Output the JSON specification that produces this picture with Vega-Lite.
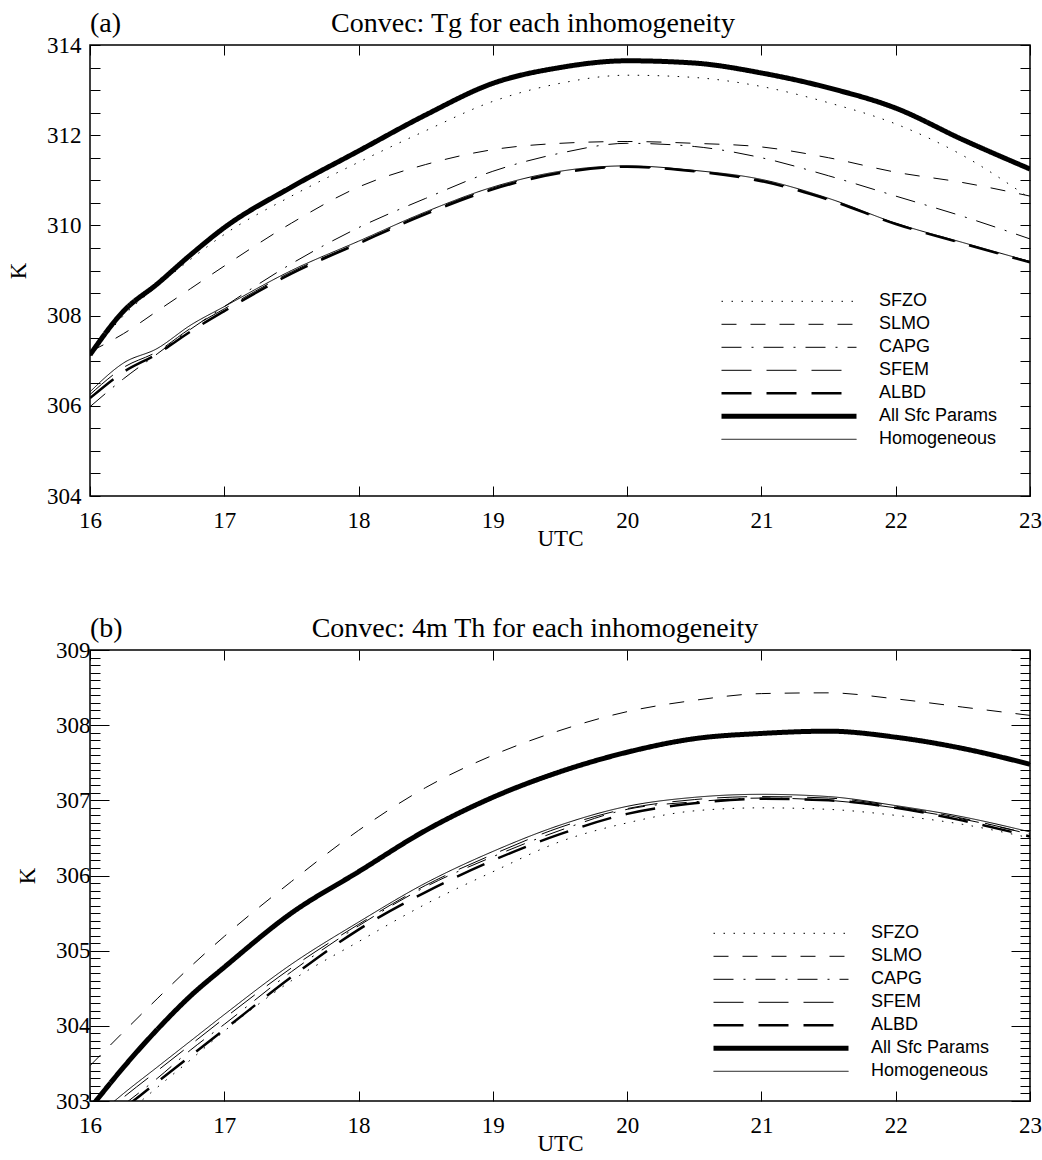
{
  "$schema": "https://vega.github.io/schema/vega-lite/v6.json",
  "autosize": {"type": "pad"},
  "padding": {"left": 6, "top": 9, "right": 13, "bottom": 4},
  "bounds": "flush",
  "spacing": 154,
  "background": "white",
  "config": {
    "view": {"stroke": "black", "strokeWidth": 1.5},
    "axis": {"labelFont": "Liberation Serif", "labelFontSize": 23, "labelColor": "black", "titleFont": "Liberation Serif", "titleFontSize": 23, "titleFontWeight": "normal", "titleColor": "black", "tickColor": "black", "domain": false, "grid": false, "tickWidth": 1, "labelFlush": false, "minExtent": 0},
    "legend": {"orient": "none", "symbolType": "stroke", "symbolSize": 18225, "symbolStrokeColor": "black", "labelFont": "Liberation Sans", "labelFontSize": 18, "labelColor": "black", "labelOffset": 20, "rowPadding": 0, "clipHeight": 22.6, "title": null},
    "title": {"font": "Liberation Serif", "fontSize": 28, "fontWeight": "normal", "color": "black", "anchor": "start", "baseline": "alphabetic", "offset": -4, "frame": "group"},
    "line": {"color": "black", "interpolate": "monotone", "strokeCap": "butt"}
  },
  "resolve": {"legend": {"strokeDash": "independent", "strokeWidth": "independent"}, "scale": {"strokeDash": "independent", "strokeWidth": "independent", "y": "independent"}},
  "datasets": {
    "a": [
      {"s":"All Sfc Params","t":16,"v":307.13},{"s":"All Sfc Params","t":16.25,"v":308.1},{"s":"All Sfc Params","t":16.5,"v":308.7},{"s":"All Sfc Params","t":16.75,"v":309.35},{"s":"All Sfc Params","t":17,"v":309.95},{"s":"All Sfc Params","t":17.5,"v":310.85},{"s":"All Sfc Params","t":18,"v":311.65},{"s":"All Sfc Params","t":18.5,"v":312.45},{"s":"All Sfc Params","t":19,"v":313.15},{"s":"All Sfc Params","t":19.5,"v":313.5},{"s":"All Sfc Params","t":20,"v":313.65},{"s":"All Sfc Params","t":20.5,"v":313.6},{"s":"All Sfc Params","t":21,"v":313.38},{"s":"All Sfc Params","t":21.5,"v":313.05},{"s":"All Sfc Params","t":22,"v":312.6},{"s":"All Sfc Params","t":22.5,"v":311.9},{"s":"All Sfc Params","t":23,"v":311.25},
      {"s":"SFZO","t":16,"v":307.1},{"s":"SFZO","t":16.25,"v":308.0},{"s":"SFZO","t":16.5,"v":308.65},{"s":"SFZO","t":16.75,"v":309.25},{"s":"SFZO","t":17,"v":309.8},{"s":"SFZO","t":17.5,"v":310.65},{"s":"SFZO","t":18,"v":311.4},{"s":"SFZO","t":18.5,"v":312.1},{"s":"SFZO","t":19,"v":312.75},{"s":"SFZO","t":19.5,"v":313.15},{"s":"SFZO","t":20,"v":313.33},{"s":"SFZO","t":20.5,"v":313.28},{"s":"SFZO","t":21,"v":313.08},{"s":"SFZO","t":21.5,"v":312.72},{"s":"SFZO","t":22,"v":312.25},{"s":"SFZO","t":22.5,"v":311.55},{"s":"SFZO","t":23,"v":310.6},
      {"s":"SLMO","t":16,"v":307.2},{"s":"SLMO","t":16.25,"v":307.6},{"s":"SLMO","t":16.5,"v":308.1},{"s":"SLMO","t":16.75,"v":308.6},{"s":"SLMO","t":17,"v":309.1},{"s":"SLMO","t":17.5,"v":310.05},{"s":"SLMO","t":18,"v":310.85},{"s":"SLMO","t":18.5,"v":311.35},{"s":"SLMO","t":19,"v":311.68},{"s":"SLMO","t":19.5,"v":311.82},{"s":"SLMO","t":20,"v":311.86},{"s":"SLMO","t":20.5,"v":311.82},{"s":"SLMO","t":21,"v":311.74},{"s":"SLMO","t":21.5,"v":311.5},{"s":"SLMO","t":22,"v":311.18},{"s":"SLMO","t":22.5,"v":310.95},{"s":"SLMO","t":23,"v":310.65},
      {"s":"CAPG","t":16,"v":305.98},{"s":"CAPG","t":16.25,"v":306.6},{"s":"CAPG","t":16.5,"v":307.15},{"s":"CAPG","t":16.75,"v":307.7},{"s":"CAPG","t":17,"v":308.2},{"s":"CAPG","t":17.5,"v":309.15},{"s":"CAPG","t":18,"v":309.95},{"s":"CAPG","t":18.5,"v":310.6},{"s":"CAPG","t":19,"v":311.2},{"s":"CAPG","t":19.5,"v":311.6},{"s":"CAPG","t":20,"v":311.82},{"s":"CAPG","t":20.5,"v":311.75},{"s":"CAPG","t":21,"v":311.5},{"s":"CAPG","t":21.5,"v":311.1},{"s":"CAPG","t":22,"v":310.65},{"s":"CAPG","t":22.5,"v":310.2},{"s":"CAPG","t":23,"v":309.7},
      {"s":"Homogeneous","t":16,"v":306.31},{"s":"Homogeneous","t":16.25,"v":306.95},{"s":"Homogeneous","t":16.5,"v":307.27},{"s":"Homogeneous","t":16.75,"v":307.79},{"s":"Homogeneous","t":17,"v":308.2},{"s":"Homogeneous","t":17.5,"v":309.0},{"s":"Homogeneous","t":18,"v":309.65},{"s":"Homogeneous","t":18.5,"v":310.3},{"s":"Homogeneous","t":19,"v":310.85},{"s":"Homogeneous","t":19.5,"v":311.2},{"s":"Homogeneous","t":20,"v":311.32},{"s":"Homogeneous","t":20.5,"v":311.22},{"s":"Homogeneous","t":21,"v":311.02},{"s":"Homogeneous","t":21.5,"v":310.6},{"s":"Homogeneous","t":22,"v":310.05},{"s":"Homogeneous","t":22.5,"v":309.62},{"s":"Homogeneous","t":23,"v":309.2},
      {"s":"SFEM","t":16,"v":306.25},{"s":"SFEM","t":16.25,"v":306.85},{"s":"SFEM","t":16.5,"v":307.2},{"s":"SFEM","t":16.75,"v":307.72},{"s":"SFEM","t":17,"v":308.15},{"s":"SFEM","t":17.5,"v":308.97},{"s":"SFEM","t":18,"v":309.62},{"s":"SFEM","t":18.5,"v":310.28},{"s":"SFEM","t":19,"v":310.83},{"s":"SFEM","t":19.5,"v":311.18},{"s":"SFEM","t":20,"v":311.3},{"s":"SFEM","t":20.5,"v":311.2},{"s":"SFEM","t":21,"v":311.0},{"s":"SFEM","t":21.5,"v":310.58},{"s":"SFEM","t":22,"v":310.04},{"s":"SFEM","t":22.5,"v":309.6},{"s":"SFEM","t":23,"v":309.2},
      {"s":"ALBD","t":16,"v":306.17},{"s":"ALBD","t":16.25,"v":306.75},{"s":"ALBD","t":16.5,"v":307.15},{"s":"ALBD","t":16.75,"v":307.65},{"s":"ALBD","t":17,"v":308.1},{"s":"ALBD","t":17.5,"v":308.93},{"s":"ALBD","t":18,"v":309.6},{"s":"ALBD","t":18.5,"v":310.25},{"s":"ALBD","t":19,"v":310.8},{"s":"ALBD","t":19.5,"v":311.16},{"s":"ALBD","t":20,"v":311.3},{"s":"ALBD","t":20.5,"v":311.2},{"s":"ALBD","t":21,"v":310.98},{"s":"ALBD","t":21.5,"v":310.57},{"s":"ALBD","t":22,"v":310.03},{"s":"ALBD","t":22.5,"v":309.6},{"s":"ALBD","t":23,"v":309.18}
    ],
    "b": [
      {"s":"All Sfc Params","t":16,"v":302.9},{"s":"All Sfc Params","t":16.25,"v":303.45},{"s":"All Sfc Params","t":16.5,"v":303.95},{"s":"All Sfc Params","t":16.75,"v":304.4},{"s":"All Sfc Params","t":17,"v":304.78},{"s":"All Sfc Params","t":17.5,"v":305.5},{"s":"All Sfc Params","t":18,"v":306.05},{"s":"All Sfc Params","t":18.5,"v":306.6},{"s":"All Sfc Params","t":19,"v":307.04},{"s":"All Sfc Params","t":19.5,"v":307.38},{"s":"All Sfc Params","t":20,"v":307.64},{"s":"All Sfc Params","t":20.5,"v":307.82},{"s":"All Sfc Params","t":21,"v":307.89},{"s":"All Sfc Params","t":21.5,"v":307.92},{"s":"All Sfc Params","t":22,"v":307.84},{"s":"All Sfc Params","t":22.5,"v":307.69},{"s":"All Sfc Params","t":23,"v":307.48},
      {"s":"SFZO","t":16,"v":302.4},{"s":"SFZO","t":16.25,"v":302.8},{"s":"SFZO","t":16.5,"v":303.18},{"s":"SFZO","t":16.75,"v":303.55},{"s":"SFZO","t":17,"v":303.93},{"s":"SFZO","t":17.5,"v":304.6},{"s":"SFZO","t":18,"v":305.12},{"s":"SFZO","t":18.5,"v":305.62},{"s":"SFZO","t":19,"v":306.05},{"s":"SFZO","t":19.5,"v":306.45},{"s":"SFZO","t":20,"v":306.7},{"s":"SFZO","t":20.5,"v":306.86},{"s":"SFZO","t":21,"v":306.9},{"s":"SFZO","t":21.5,"v":306.88},{"s":"SFZO","t":22,"v":306.8},{"s":"SFZO","t":22.5,"v":306.68},{"s":"SFZO","t":23,"v":306.5},
      {"s":"SLMO","t":16,"v":303.47},{"s":"SLMO","t":16.25,"v":303.92},{"s":"SLMO","t":16.5,"v":304.36},{"s":"SLMO","t":16.75,"v":304.79},{"s":"SLMO","t":17,"v":305.19},{"s":"SLMO","t":17.5,"v":305.92},{"s":"SLMO","t":18,"v":306.6},{"s":"SLMO","t":18.5,"v":307.17},{"s":"SLMO","t":19,"v":307.6},{"s":"SLMO","t":19.5,"v":307.93},{"s":"SLMO","t":20,"v":308.18},{"s":"SLMO","t":20.5,"v":308.33},{"s":"SLMO","t":21,"v":308.42},{"s":"SLMO","t":21.5,"v":308.43},{"s":"SLMO","t":22,"v":308.35},{"s":"SLMO","t":22.5,"v":308.24},{"s":"SLMO","t":23,"v":308.13},
      {"s":"CAPG","t":16,"v":302.6},{"s":"CAPG","t":16.25,"v":302.95},{"s":"CAPG","t":16.5,"v":303.3},{"s":"CAPG","t":16.75,"v":303.68},{"s":"CAPG","t":17,"v":304.02},{"s":"CAPG","t":17.5,"v":304.72},{"s":"CAPG","t":18,"v":305.33},{"s":"CAPG","t":18.5,"v":305.85},{"s":"CAPG","t":19,"v":306.25},{"s":"CAPG","t":19.5,"v":306.6},{"s":"CAPG","t":20,"v":306.88},{"s":"CAPG","t":20.5,"v":306.98},{"s":"CAPG","t":21,"v":307.03},{"s":"CAPG","t":21.5,"v":307.0},{"s":"CAPG","t":22,"v":306.9},{"s":"CAPG","t":22.5,"v":306.75},{"s":"CAPG","t":23,"v":306.55},
      {"s":"Homogeneous","t":16,"v":302.72},{"s":"Homogeneous","t":16.25,"v":303.1},{"s":"Homogeneous","t":16.5,"v":303.45},{"s":"Homogeneous","t":16.75,"v":303.8},{"s":"Homogeneous","t":17,"v":304.15},{"s":"Homogeneous","t":17.5,"v":304.82},{"s":"Homogeneous","t":18,"v":305.38},{"s":"Homogeneous","t":18.5,"v":305.9},{"s":"Homogeneous","t":19,"v":306.32},{"s":"Homogeneous","t":19.5,"v":306.67},{"s":"Homogeneous","t":20,"v":306.92},{"s":"Homogeneous","t":20.5,"v":307.04},{"s":"Homogeneous","t":21,"v":307.08},{"s":"Homogeneous","t":21.5,"v":307.05},{"s":"Homogeneous","t":22,"v":306.93},{"s":"Homogeneous","t":22.5,"v":306.78},{"s":"Homogeneous","t":23,"v":306.58},
      {"s":"SFEM","t":16,"v":302.68},{"s":"SFEM","t":16.25,"v":303.05},{"s":"SFEM","t":16.5,"v":303.4},{"s":"SFEM","t":16.75,"v":303.75},{"s":"SFEM","t":17,"v":304.1},{"s":"SFEM","t":17.5,"v":304.77},{"s":"SFEM","t":18,"v":305.35},{"s":"SFEM","t":18.5,"v":305.87},{"s":"SFEM","t":19,"v":306.28},{"s":"SFEM","t":19.5,"v":306.64},{"s":"SFEM","t":20,"v":306.89},{"s":"SFEM","t":20.5,"v":307.01},{"s":"SFEM","t":21,"v":307.05},{"s":"SFEM","t":21.5,"v":307.03},{"s":"SFEM","t":22,"v":306.92},{"s":"SFEM","t":22.5,"v":306.76},{"s":"SFEM","t":23,"v":306.55},
      {"s":"ALBD","t":16,"v":302.55},{"s":"ALBD","t":16.25,"v":302.9},{"s":"ALBD","t":16.5,"v":303.25},{"s":"ALBD","t":16.75,"v":303.6},{"s":"ALBD","t":17,"v":303.95},{"s":"ALBD","t":17.5,"v":304.65},{"s":"ALBD","t":18,"v":305.28},{"s":"ALBD","t":18.5,"v":305.78},{"s":"ALBD","t":19,"v":306.2},{"s":"ALBD","t":19.5,"v":306.55},{"s":"ALBD","t":20,"v":306.82},{"s":"ALBD","t":20.5,"v":306.96},{"s":"ALBD","t":21,"v":307.02},{"s":"ALBD","t":21.5,"v":307.0},{"s":"ALBD","t":22,"v":306.9},{"s":"ALBD","t":22.5,"v":306.73},{"s":"ALBD","t":23,"v":306.52}
    ]
  },
  "vconcat": [
    {
      "width": 940, "height": 451,
      "title": {"text": "(a)\u00a0\u00a0\u00a0\u00a0\u00a0\u00a0\u00a0\u00a0\u00a0\u00a0\u00a0\u00a0\u00a0\u00a0\u00a0\u00a0\u00a0\u00a0\u00a0\u00a0\u00a0\u00a0\u00a0\u00a0\u00a0\u00a0\u00a0\u00a0\u00a0\u00a0Convec: Tg for each inhomogeneity"},
      "data": {"name": "a"},
      "resolve": {"axis": {"x": "independent", "y": "independent"}},
      "layer": [
        {
          "mark": {"type": "line", "clip": true},
          "encoding": {
            "x": {"field": "t", "type": "quantitative", "scale": {"domain": [16, 23], "nice": false}, "axis": {"values": [16,17,18,19,20,21,22,23], "format": "d", "title": "UTC", "tickSize": -10, "labelPadding": 23, "titlePadding": -5}},
            "y": {"field": "v", "type": "quantitative", "scale": {"domain": [304, 314], "nice": false, "zero": false}, "axis": {"values": [304,304.5,305,305.5,306,306.5,307,307.5,308,308.5,309,309.5,310,310.5,311,311.5,312,312.5,313,313.5,314], "labelExpr": "datum.value % 2 == 0 ? format(datum.value, 'd') : ''", "title": "K", "tickSize": -10, "labelPadding": 19, "titlePadding": 16}},
            "strokeDash": {"field": "s", "type": "nominal", "scale": {"domain": ["SFZO","SLMO","CAPG","SFEM","ALBD","All Sfc Params","Homogeneous"], "range": [[1.5,8.5],[15,14],[20,10,2,10],[30,15],[30,15],[1,0],[1,0]]}, "legend": {"legendX": 629, "legendY": 245}},
            "strokeWidth": {"field": "s", "type": "nominal", "scale": {"type": "ordinal", "domain": ["SFZO","SLMO","CAPG","SFEM","ALBD","All Sfc Params","Homogeneous"], "range": [1,1,1,1,2.5,5,1]}, "legend": {"legendX": 629, "legendY": 245}}
          }
        },
        {
          "mark": {"type": "line", "strokeOpacity": 0, "clip": true},
          "encoding": {
            "x": {"field": "t", "type": "quantitative", "scale": {"domain": [16, 23], "nice": false}, "axis": {"orient": "top", "values": [16,17,18,19,20,21,22,23], "labels": false, "title": null, "tickSize": -10}},
            "y": {"field": "v", "type": "quantitative", "scale": {"domain": [304, 314], "nice": false, "zero": false}, "axis": {"orient": "right", "values": [304,304.5,305,305.5,306,306.5,307,307.5,308,308.5,309,309.5,310,310.5,311,311.5,312,312.5,313,313.5,314], "labels": false, "title": null, "tickSize": -10}},
            "detail": {"field": "s", "type": "nominal"}
          }
        }
      ]
    },
    {
      "width": 940, "height": 451,
      "title": {"text": "(b)\u00a0\u00a0\u00a0\u00a0\u00a0\u00a0\u00a0\u00a0\u00a0\u00a0\u00a0\u00a0\u00a0\u00a0\u00a0\u00a0\u00a0\u00a0\u00a0\u00a0\u00a0\u00a0\u00a0\u00a0\u00a0\u00a0\u00a0Convec: 4m Th for each inhomogeneity"},
      "data": {"name": "b"},
      "resolve": {"axis": {"x": "independent", "y": "independent"}},
      "layer": [
        {
          "mark": {"type": "line", "clip": true},
          "encoding": {
            "x": {"field": "t", "type": "quantitative", "scale": {"domain": [16, 23], "nice": false}, "axis": {"values": [16,17,18,19,20,21,22,23], "format": "d", "title": "UTC", "tickSize": -10, "labelPadding": 23, "titlePadding": -5}},
            "y": {"field": "v", "type": "quantitative", "scale": {"domain": [303, 309], "nice": false, "zero": false}, "axis": {"values": [303,303.1,303.2,303.3,303.4,303.5,303.6,303.7,303.8,303.9,304,304.1,304.2,304.3,304.4,304.5,304.6,304.7,304.8,304.9,305,305.1,305.2,305.3,305.4,305.5,305.6,305.7,305.8,305.9,306,306.1,306.2,306.3,306.4,306.5,306.6,306.7,306.8,306.9,307,307.1,307.2,307.3,307.4,307.5,307.6,307.7,307.8,307.9,308,308.1,308.2,308.3,308.4,308.5,308.6,308.7,308.8,308.9,309], "labelExpr": "abs(datum.value - round(datum.value)) < 0.001 ? format(datum.value, 'd') : ''", "title": "K", "tickSize": {"condition": {"test": "abs(datum.value - round(datum.value)) < 0.001", "value": -19}, "value": -10}, "labelPadding": 19, "titlePadding": 16}},
            "strokeDash": {"field": "s", "type": "nominal", "scale": {"domain": ["SFZO","SLMO","CAPG","SFEM","ALBD","All Sfc Params","Homogeneous"], "range": [[1.5,8.5],[15,14],[20,10,2,10],[30,15],[30,15],[1,0],[1,0]]}, "legend": {"legendX": 621, "legendY": 272}},
            "strokeWidth": {"field": "s", "type": "nominal", "scale": {"type": "ordinal", "domain": ["SFZO","SLMO","CAPG","SFEM","ALBD","All Sfc Params","Homogeneous"], "range": [1,1,1,1,2.5,5,1]}, "legend": {"legendX": 621, "legendY": 272}}
          }
        },
        {
          "mark": {"type": "line", "strokeOpacity": 0, "clip": true},
          "encoding": {
            "x": {"field": "t", "type": "quantitative", "scale": {"domain": [16, 23], "nice": false}, "axis": {"orient": "top", "values": [16,17,18,19,20,21,22,23], "labels": false, "title": null, "tickSize": -10}},
            "y": {"field": "v", "type": "quantitative", "scale": {"domain": [303, 309], "nice": false, "zero": false}, "axis": {"orient": "right", "values": [303,303.1,303.2,303.3,303.4,303.5,303.6,303.7,303.8,303.9,304,304.1,304.2,304.3,304.4,304.5,304.6,304.7,304.8,304.9,305,305.1,305.2,305.3,305.4,305.5,305.6,305.7,305.8,305.9,306,306.1,306.2,306.3,306.4,306.5,306.6,306.7,306.8,306.9,307,307.1,307.2,307.3,307.4,307.5,307.6,307.7,307.8,307.9,308,308.1,308.2,308.3,308.4,308.5,308.6,308.7,308.8,308.9,309], "labels": false, "title": null, "tickSize": {"condition": {"test": "abs(datum.value - round(datum.value)) < 0.001", "value": -19}, "value": -10}}},
            "detail": {"field": "s", "type": "nominal"}
          }
        }
      ]
    }
  ]
}
